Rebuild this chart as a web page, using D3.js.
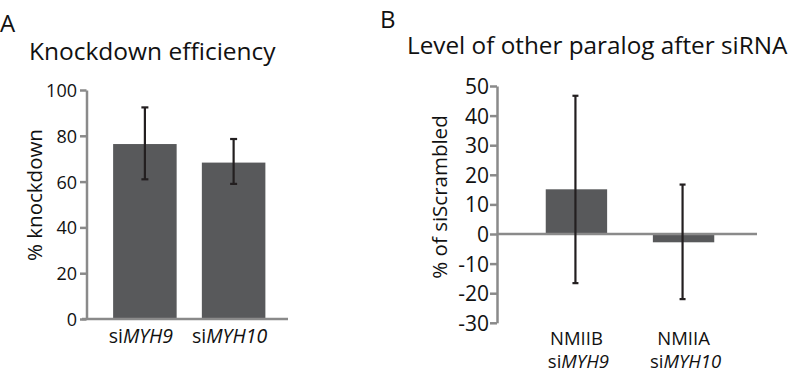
<!DOCTYPE html>
<html><head><meta charset="utf-8">
<script src="https://cdn.jsdelivr.net/npm/d3@7"></script>
<style>
body{margin:0;background:#fff;}
text{font-family:"Open Sans",sans-serif;fill:#111;}
</style></head>
<body><svg id="c" width="792" height="373"></svg>
<script>
// Panel A data
const catsA = ["siMYH9", "siMYH10"];
const valsA = [76.4, 68.3];
const errLoA = [61.0, 59.0];
const errHiA = [92.4, 78.6];
const ticksA = [0, 20, 40, 60, 80, 100];

// Panel B data
const catsB = ["NMIIB|siMYH9", "NMIIA|siMYH10"];
const valsB = [15.1, -2.8];
const errLoB = [-16.6, -22.0];
const errHiB = [46.7, 16.7];
const ticksB = [-30, -20, -10, 0, 10, 20, 30, 40, 50];

const svg = d3.select("#c");
const axisCol = "#8a8a8a", barCol = "#58595b", errCol = "#231f20";

function label(g, txt, x, y, size, anchor) {
  return g.append("text").attr("x", x).attr("y", y).attr("font-size", size)
    .attr("text-anchor", anchor || "start").text(txt);
}
// render "si" + italic gene
function geneLabel(g, txt, x, y, size) {
  const t = g.append("text").attr("x", x).attr("y", y).attr("font-size", size).attr("text-anchor", "middle");
  t.append("tspan").text(txt.slice(0, 2));
  t.append("tspan").attr("font-style", "italic").text(txt.slice(2));
  return t;
}

// ---------- Panel A ----------
const yA = d3.scaleLinear().domain([0, 100]).range([319, 90]);
const xA = d3.scaleBand().domain(catsA).range([86.5, 292]).paddingInner(0.284).paddingOuter(0.3);
const gA = svg.append("g");
label(gA, "A", 0, 32, 24);
label(gA, "Knockdown efficiency", 29, 60, 24.5);

gA.selectAll("rect.bar").data(catsA).join("rect").attr("class", "bar")
  .attr("x", d => xA(d)).attr("width", xA.bandwidth())
  .attr("y", (d, i) => yA(valsA[i])).attr("height", (d, i) => yA(0) - yA(valsA[i]))
  .attr("fill", barCol);

const axA = gA.append("g").attr("transform", "translate(86.5,0)")
  .call(d3.axisLeft(yA).tickValues(ticksA).tickFormat(d => String(d)).tickSize(6.5).tickPadding(3).tickSizeOuter(0));
axA.select(".domain").attr("stroke", axisCol).attr("stroke-width", 2.5);
axA.selectAll(".tick line").attr("stroke", axisCol).attr("stroke-width", 2.5);
axA.selectAll(".tick text").attr("font-size", 18).attr("font-family", "Open Sans").attr("fill", "#111").attr("dy", "0.36em");
gA.append("line").attr("x1", 82).attr("x2", 288).attr("y1", yA(0)).attr("y2", yA(0))
  .attr("stroke", axisCol).attr("stroke-width", 2.5);

catsA.forEach((c, i) => {
  const cx = xA(c) + xA.bandwidth() / 2;
  const e = gA.append("g").attr("stroke", errCol).attr("stroke-width", 2.2);
  e.append("line").attr("x1", cx).attr("x2", cx).attr("y1", yA(errLoA[i])).attr("y2", yA(errHiA[i]));
  e.append("line").attr("x1", cx - 3.5).attr("x2", cx + 3.5).attr("y1", yA(errLoA[i])).attr("y2", yA(errLoA[i]));
  e.append("line").attr("x1", cx - 3.5).attr("x2", cx + 3.5).attr("y1", yA(errHiA[i])).attr("y2", yA(errHiA[i]));
  geneLabel(gA, c, cx - 4, 343, 19.5);
});
gA.append("text").attr("transform", "translate(42,195) rotate(-90)").attr("text-anchor", "middle")
  .attr("font-size", 20.5).text("% knockdown");

// ---------- Panel B ----------
const yB = d3.scaleLinear().domain([-30, 50]).range([322.8, 86]);
const xB = d3.scaleBand().domain(catsB).range([497, 763]).paddingInner(0.427).paddingOuter(0.455);
const gB = svg.append("g");
label(gB, "B", 380, 28, 24);
label(gB, "Level of other paralog after siRNA", 407, 54, 24.3);

gB.selectAll("rect.bar").data(catsB).join("rect").attr("class", "bar")
  .attr("x", d => xB(d)).attr("width", xB.bandwidth())
  .attr("y", (d, i) => yB(Math.max(0, valsB[i])))
  .attr("height", (d, i) => Math.abs(yB(valsB[i]) - yB(0)))
  .attr("fill", barCol);

const axB = gB.append("g").attr("transform", "translate(497,0)")
  .call(d3.axisLeft(yB).tickValues(ticksB).tickFormat(d => String(d)).tickSize(7).tickPadding(1).tickSizeOuter(0));
axB.select(".domain").attr("stroke", axisCol).attr("stroke-width", 2.5);
axB.selectAll(".tick line").attr("stroke", axisCol).attr("stroke-width", 2.5);
axB.selectAll(".tick text").attr("font-size", 21).attr("font-family", "Open Sans").attr("fill", "#111").attr("dy", "0.36em");
gB.append("line").attr("x1", 497).attr("x2", 757).attr("y1", yB(0)).attr("y2", yB(0))
  .attr("stroke", axisCol).attr("stroke-width", 2.5);

catsB.forEach((c, i) => {
  const cx = xB(c) + xB.bandwidth() / 2 - 1;
  const e = gB.append("g").attr("stroke", errCol).attr("stroke-width", 2.2);
  e.append("line").attr("x1", cx).attr("x2", cx).attr("y1", yB(errLoB[i])).attr("y2", yB(errHiB[i]));
  e.append("line").attr("x1", cx - 3).attr("x2", cx + 3).attr("y1", yB(errLoB[i])).attr("y2", yB(errLoB[i]));
  e.append("line").attr("x1", cx - 3).attr("x2", cx + 3).attr("y1", yB(errHiB[i])).attr("y2", yB(errHiB[i]));
  const parts = c.split("|");
  label(gB, parts[0], cx + 1, 345, 18.5, "middle");
  geneLabel(gB, parts[1], cx + 3, 368, 18.5);
});
gB.append("text").attr("transform", "translate(447,197) rotate(-90)").attr("text-anchor", "middle")
  .attr("font-size", 20.5).text("% of siScrambled");
</script></body></html>
